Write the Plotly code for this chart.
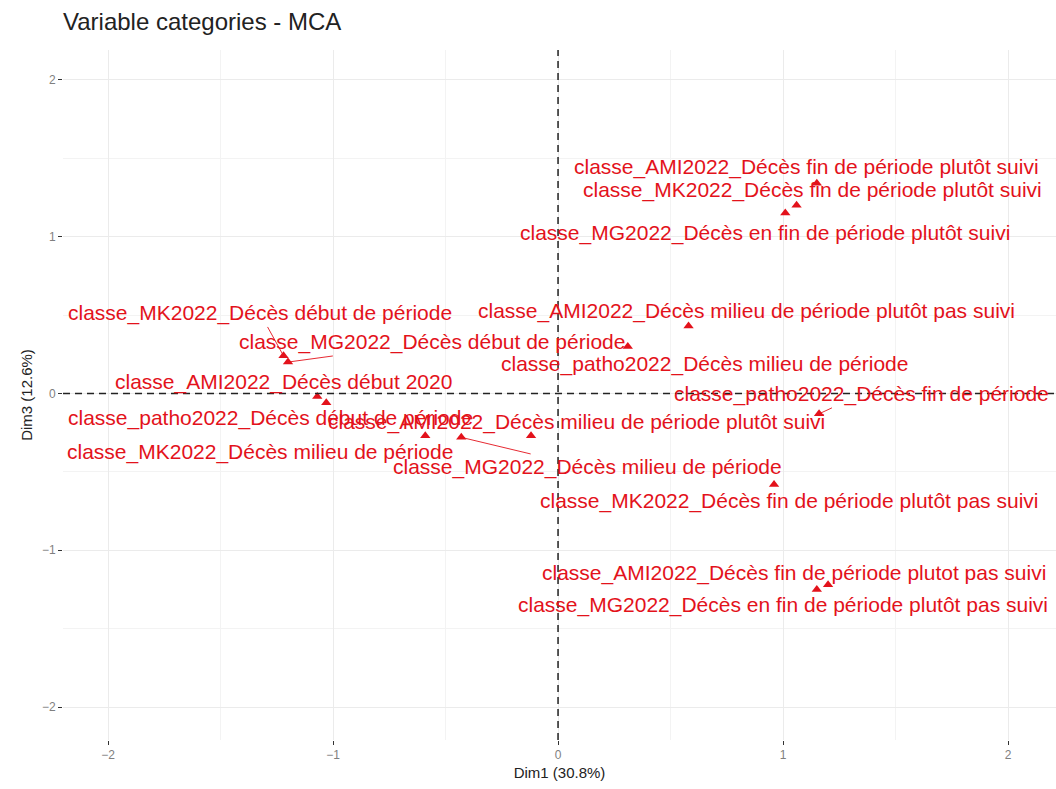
import plotly.graph_objects as go

# Category coordinates on MCA dimensions 1 and 3
categories = [
    "classe_AMI2022_Décès fin de période plutôt suivi",
    "classe_MK2022_Décès fin de période plutôt suivi",
    "classe_MG2022_Décès en fin de période plutôt suivi",
    "classe_MK2022_Décès début de période",
    "classe_AMI2022_Décès milieu de période plutôt pas suivi",
    "classe_MG2022_Décès début de période",
    "classe_patho2022_Décès milieu de période",
    "classe_AMI2022_Décès début 2020",
    "classe_patho2022_Décès fin de période",
    "classe_patho2022_Décès début de période",
    "classe_AMI2022_Décès milieu de période plutôt suivi",
    "classe_MK2022_Décès milieu de période",
    "classe_MG2022_Décès milieu de période",
    "classe_MK2022_Décès fin de période plutôt pas suivi",
    "classe_AMI2022_Décès fin de période plutot pas suivi",
    "classe_MG2022_Décès en fin de période plutôt pas suivi",
]
dim1 = [1.15, 1.06, 1.01, -1.22, 0.58, -1.20, 0.31, -1.07, 1.16, -1.03,
        -0.12, -0.59, -0.43, 0.96, 1.20, 1.15]
dim3 = [1.34, 1.20, 1.15, 0.24, 0.43, 0.20, 0.30, -0.02, -0.13, -0.06,
        -0.27, -0.27, -0.28, -0.58, -1.22, -1.25]

# Repelled label placement (data units) and whether a connector is drawn
label_x = [1.102, 1.129, 0.92, -1.324, 0.836, -0.56, 0.649, -1.218, 1.347, -1.28,
           0.084, -1.324, 0.129, 1.027, 1.049, 1.0]
label_y = [1.442, 1.295, 1.021, 0.510, 0.523, 0.325, 0.185, 0.070, -0.006, -0.159,
           -0.185, -0.376, -0.472, -0.683, -1.148, -1.352]
connector = [False, False, False, True, False, True, False, False, True, False,
             False, False, True, False, False, False]

RED = "#e3121b"
FONT = "Liberation Sans"

fig = go.Figure()

fig.add_trace(go.Scatter(
    x=dim1, y=dim3, mode="markers",
    marker=dict(symbol="triangle-up", size=9, color=RED),
    hoverinfo="text", hovertext=categories, showlegend=False,
))

for name, px, py, lx, ly, seg in zip(categories, dim1, dim3, label_x, label_y, connector):
    fig.add_annotation(
        x=px, y=py, xref="x", yref="y",
        ax=lx, ay=ly, axref="x", ayref="y",
        text=name, showarrow=True, arrowhead=0, arrowwidth=0.9,
        arrowcolor=RED if seg else "rgba(0,0,0,0)", standoff=2,
        font=dict(family=FONT, size=21, color=RED),
    )

# Reference lines through the origin
fig.add_shape(type="line", xref="x", yref="paper", x0=0, x1=0, y0=0, y1=1,
              line=dict(color="#222222", width=1.5, dash="7px,5px"), layer="above")
fig.add_shape(type="line", xref="paper", yref="y", x0=0, x1=1, y0=0, y1=0,
              line=dict(color="#222222", width=1.5, dash="7px,5px"), layer="above")

axis_common = dict(
    dtick=1, tick0=0, showgrid=True, gridcolor="#ebebeb", gridwidth=1,
    zeroline=False, showline=False, ticks="outside", ticklen=4, tickwidth=1.2,
    tickcolor="#333333", tickfont=dict(family=FONT, size=12, color="#7f7f7f"),
    minor=dict(dtick=0.5, showgrid=True, gridcolor="#f3f3f3", gridwidth=0.7),
)

fig.update_xaxes(range=[-2.2, 2.213], title=dict(text="Dim1 (30.8%)",
                 font=dict(family=FONT, size=15, color="#222222"), standoff=6),
                 **axis_common)
fig.update_yaxes(range=[-2.21, 2.19], title=dict(text="Dim3 (12.6%)",
                 font=dict(family=FONT, size=15, color="#222222"), standoff=5),
                 **axis_common)

fig.update_layout(
    width=1056, height=789,
    margin=dict(l=63, r=0, t=50, b=49),
    plot_bgcolor="white", paper_bgcolor="white",
    title=dict(text="Variable categories - MCA", x=0, xref="paper", xanchor="left",
               y=1 - 22 / 789, yref="container", yanchor="middle",
               font=dict(family=FONT, size=24, color="#222222")),
    showlegend=False,
)

fig.write_html("out.html")
